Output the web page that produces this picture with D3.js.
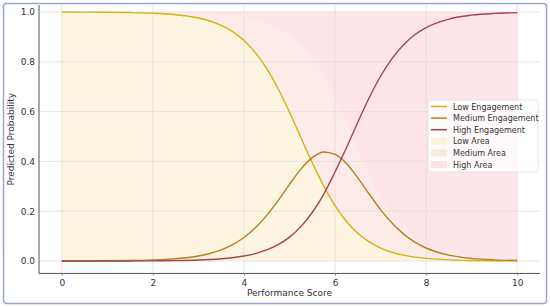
<!DOCTYPE html>
<html>
<head>
<meta charset="utf-8">
<script src="https://cdn.jsdelivr.net/npm/d3@7"></script>
<style>
body { margin: 0; background: #fff; }
svg { display: block; font-family: "DejaVu Sans", sans-serif; }
</style>
</head>
<body>
<svg id="chart" width="550" height="307"></svg>
<script>
// values
var scores = [0, 0.5, 1, 1.5, 2, 2.5, 3, 3.25, 3.5, 3.75, 4, 4.25, 4.5, 4.75, 5, 5.25, 5.5, 5.75, 6, 6.25, 6.5, 6.75, 7, 7.25, 7.5, 7.75, 8, 8.5, 9, 9.5, 10];
var lowEng = [0.9998, 0.9996, 0.9991, 0.9979, 0.9953, 0.9892, 0.9758, 0.9639, 0.9464, 0.9212, 0.8856, 0.8367, 0.7723, 0.6918, 0.5977, 0.4959, 0.3944, 0.3012, 0.2220, 0.1589, 0.1112, 0.0765, 0.0519, 0.0350, 0.0235, 0.0156, 0.0104, 0.0046, 0.0020, 0.0009, 0.0004];
var medEng = [0.0002, 0.0003, 0.0008, 0.0018, 0.0040, 0.0091, 0.0203, 0.0302, 0.0447, 0.0655, 0.0944, 0.1334, 0.1833, 0.2426, 0.3080, 0.3690, 0.4150, 0.4380, 0.4280, 0.3920, 0.3340, 0.2690, 0.2061, 0.1522, 0.1088, 0.0760, 0.0522, 0.0238, 0.0107, 0.0047, 0.0021];
var highEng = [0.0000, 0.0001, 0.0001, 0.0003, 0.0007, 0.0017, 0.0039, 0.0059, 0.0089, 0.0133, 0.0200, 0.0299, 0.0444, 0.0656, 0.0958, 0.1381, 0.1948, 0.2677, 0.3578, 0.4547, 0.5575, 0.6555, 0.7420, 0.8128, 0.8677, 0.9084, 0.9374, 0.9716, 0.9873, 0.9944, 0.9975];
var xTicks = [0, 2, 4, 6, 8, 10];
var yTicks = [0, 0.2, 0.4, 0.6, 0.8, 1.0];

var lineColors = ["#d6b20c", "#b5801e", "#a3444f"];
var areaColors = ["#fdf4e2", "#fcebe8", "#fde5e9"];
var legendSwatch = ["#fdf4dc", "#f5ebe2", "#fbe2e6"];
var seriesNames = ["Low Engagement", "Medium Engagement", "High Engagement"];
var areaNames = ["Low Area", "Medium Area", "High Area"];

var svg = d3.select("#chart");
var plotLeft = 39, plotRight = 540, plotTop = 12, zeroY = 261;

var x = d3.scaleLinear().domain([-0.5, 10.5]).range([plotLeft, plotRight]);
var y = d3.scaleLinear().domain([0, 1]).range([zeroY, plotTop]);
var bottomY = y(-0.05);

// outer frame
svg.append("rect").attr("x", 3.5).attr("y", 3.5).attr("width", 543).attr("height", 300)
    .attr("rx", 3).attr("fill", "#fff").attr("stroke", "#9aa5d6").attr("stroke-width", 1.5);

svg.append("clipPath").attr("id", "clip").append("rect")
    .attr("x", plotLeft).attr("y", 5).attr("width", plotRight - plotLeft).attr("height", bottomY - 5);

var plot = svg.append("g").attr("clip-path", "url(#clip)");

var rows = scores.map(function (s, i) {
  return {s: s, l: lowEng[i], m: medEng[i], h: highEng[i]};
});

// stacked areas
var areaLow = d3.area().x(function (d) { return x(d.s); })
    .y0(function (d) { return y(0); }).y1(function (d) { return y(d.l); }).curve(d3.curveMonotoneX);
var areaMed = d3.area().x(function (d) { return x(d.s); })
    .y0(function (d) { return y(d.l); }).y1(function (d) { return y(Math.min(1, d.l + d.m)); }).curve(d3.curveMonotoneX);
var areaHigh = d3.area().x(function (d) { return x(d.s); })
    .y0(function (d) { return y(Math.min(1, d.l + d.m)); }).y1(function (d) { return y(1); }).curve(d3.curveMonotoneX);

plot.append("path").datum(rows).attr("d", areaLow).attr("fill", areaColors[0]);
plot.append("path").datum(rows).attr("d", areaMed).attr("fill", areaColors[1]);
plot.append("path").datum(rows).attr("d", areaHigh).attr("fill", areaColors[2]);

// grid
plot.selectAll(".gx").data(xTicks).enter().append("line")
    .attr("x1", function (d) { return x(d); }).attr("x2", function (d) { return x(d); })
    .attr("y1", 0).attr("y2", bottomY)
    .attr("stroke", "#e2dedb").attr("stroke-width", 0.8);
plot.selectAll(".gy").data(yTicks).enter().append("line")
    .attr("x1", plotLeft).attr("x2", plotRight)
    .attr("y1", function (d) { return y(d); }).attr("y2", function (d) { return y(d); })
    .attr("stroke", "#e2dedb").attr("stroke-width", 0.8);

// curves
[lowEng, medEng, highEng].forEach(function (vals, k) {
  var line = d3.line().x(function (d, i) { return x(scores[i]); })
      .y(function (d) { return y(d); }).curve(d3.curveMonotoneX);
  plot.append("path").datum(vals).attr("d", line)
      .attr("fill", "none").attr("stroke", lineColors[k]).attr("stroke-width", 1.4);
});

// axes
var xAxis = d3.axisBottom(x).tickValues(xTicks).tickSize(2).tickPadding(4).tickFormat(d3.format("d"));
var yAxis = d3.axisLeft(y).tickValues(yTicks).tickSize(0).tickPadding(4).tickFormat(d3.format(".1f"));

var gx = svg.append("g").attr("transform", "translate(0," + bottomY + ")").call(xAxis);
gx.select(".domain").attr("d", "M" + plotLeft + ",0H" + plotRight).attr("stroke", "#555");
gx.selectAll(".tick line").attr("stroke", "#777");
gx.selectAll("text").attr("font-size", 9).attr("fill", "#333").attr("font-family", "DejaVu Sans");

var gy = svg.append("g").attr("transform", "translate(" + plotLeft + ",0)").call(yAxis);
gy.select(".domain").attr("d", "M0,5V" + bottomY).attr("stroke", "#555");
gy.selectAll("text").attr("font-size", 9).attr("fill", "#333").attr("font-family", "DejaVu Sans");

svg.append("text").attr("x", (plotLeft + plotRight) / 2).attr("y", 296).attr("text-anchor", "middle")
    .attr("font-size", 9).attr("fill", "#333").text("Performance Score");
svg.append("text").attr("transform", "translate(14," + ((5 + bottomY) / 2) + ") rotate(-90)")
    .attr("text-anchor", "middle").attr("font-size", 9).attr("fill", "#333").text("Predicted Probability");

// legend
var lg = svg.append("g").attr("transform", "translate(428,100)");
lg.append("rect").attr("width", 110).attr("height", 72).attr("rx", 2)
    .attr("fill", "#fff").attr("fill-opacity", 0.8).attr("stroke", "#ddd").attr("stroke-width", 0.8);
seriesNames.forEach(function (n, i) {
  var cy = 6.5 + i * 11.6;
  lg.append("line").attr("x1", 3).attr("x2", 19).attr("y1", cy).attr("y2", cy)
      .attr("stroke", lineColors[i]).attr("stroke-width", 1.5);
  lg.append("text").attr("x", 25).attr("y", cy + 3).attr("font-size", 8).attr("fill", "#333").text(n);
});
areaNames.forEach(function (n, i) {
  var cy = 6.5 + (i + 3) * 11.6;
  lg.append("rect").attr("x", 3).attr("y", cy - 3.5).attr("width", 16).attr("height", 7)
      .attr("fill", legendSwatch[i]);
  lg.append("text").attr("x", 25).attr("y", cy + 3).attr("font-size", 8).attr("fill", "#333").text(n);
});
</script>
</body>
</html>
